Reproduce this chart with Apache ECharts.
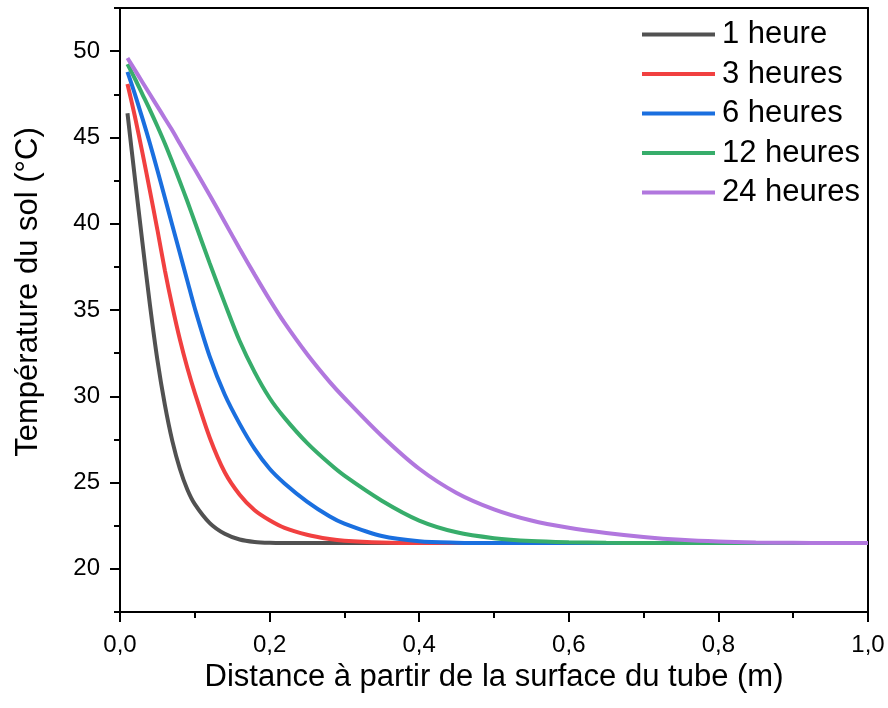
<!DOCTYPE html>
<html>
<head>
<meta charset="utf-8">
<script src="https://cdn.jsdelivr.net/npm/echarts@6/dist/echarts.min.js"></script>
<style>
  html, body { margin: 0; padding: 0; background: #fff; }
  #main { width: 888px; height: 708px; }
</style>
</head>
<body>
<div id="main"></div>
<script>
// distance from the tube surface (m)
var distance = [0.01, 0.02, 0.03, 0.04, 0.05, 0.06, 0.07, 0.08, 0.09, 0.10, 0.12, 0.14, 0.16, 0.18, 0.20, 0.22,
  0.25, 0.28, 0.30, 0.35, 0.40, 0.45, 0.50, 0.55, 0.60, 0.65, 0.70, 0.75, 0.80, 0.85, 0.90, 0.95, 1.00];

// soil temperature (°C) for each duration
var temp1h = [46.4, 42.6, 38.9, 35.3, 32.1, 29.5, 27.4, 25.8, 24.6, 23.75, 22.65, 22.03, 21.7, 21.56, 21.51, 21.5,
  21.5, 21.5, 21.5, 21.5, 21.5, 21.5, 21.5, 21.5, 21.5, 21.5, 21.5, 21.5, 21.5, 21.5, 21.5, 21.5, 21.5];
var temp3h = [48.1, 46.2, 44.1, 41.9, 39.65, 37.3, 35.2, 33.3, 31.65, 30.2, 27.6, 25.6, 24.3, 23.4, 22.82, 22.38,
  21.98, 21.73, 21.63, 21.53, 21.5, 21.5, 21.5, 21.5, 21.5, 21.5, 21.5, 21.5, 21.5, 21.5, 21.5, 21.5, 21.5];
var temp6h = [48.8, 47.5, 46.1, 44.65, 43.1, 41.5, 39.9, 38.3, 36.7, 35.1, 32.3, 30.1, 28.4, 26.95, 25.8, 24.95,
  23.9, 23.05, 22.62, 21.9, 21.6, 21.52, 21.5, 21.5, 21.5, 21.5, 21.5, 21.5, 21.5, 21.5, 21.5, 21.5, 21.5];
var temp12h = [49.25, 48.4, 47.5, 46.6, 45.65, 44.65, 43.57, 42.45, 41.3, 40.1, 37.7, 35.4, 33.2, 31.4, 29.9, 28.75,
  27.3, 26.1, 25.4, 23.95, 22.8, 22.12, 21.78, 21.61, 21.54, 21.51, 21.5, 21.5, 21.5, 21.5, 21.5, 21.5, 21.5];
var temp24h = [49.6, 48.9, 48.2, 47.5, 46.8, 46.1, 45.4, 44.65, 43.9, 43.15, 41.65, 40.1, 38.55, 37.05, 35.6, 34.25,
  32.45, 30.85, 29.9, 27.7, 25.8, 24.4, 23.45, 22.8, 22.38, 22.08, 21.85, 21.68, 21.58, 21.53, 21.51, 21.5, 21.5];

var seriesNames = ['1 heure', '3 heures', '6 heures', '12 heures', '24 heures'];
var seriesColors = ['#515151', '#F14040', '#1A6FDF', '#37AD6B', '#B177DE'];
var seriesValues = [temp1h, temp3h, temp6h, temp12h, temp24h];

var yMajor = [20, 25, 30, 35, 40, 45, 50];
var yMinor = [17.5, 22.5, 27.5, 32.5, 37.5, 42.5, 47.5, 52.5];

var font = 'Liberation Sans, Arial, sans-serif';

var series = seriesNames.map(function (name, k) {
  return {
    name: name,
    type: 'line',
    symbol: 'none',
    smooth: 0.3,
    color: seriesColors[k],
    lineStyle: { width: 4, color: seriesColors[k] },
    data: distance.map(function (d, i) { return [d, seriesValues[k][i]]; })
  };
});

var option = {
  backgroundColor: '#fff',
  animation: false,
  grid: { left: 120, right: 20, top: 8, bottom: 96 },
  legend: {
    orient: 'vertical',
    left: 642,
    top: 19,
    padding: 0,
    icon: 'rect',
    itemWidth: 73,
    itemHeight: 4,
    itemGap: 8.5,
    textStyle: { fontFamily: font, fontSize: 31, color: '#000', lineHeight: 30, padding: [0, 0, 0, 2] },
    data: seriesNames
  },
  xAxis: [
    {
      type: 'value',
      min: 0, max: 1, interval: 0.2,
      name: 'Distance à partir de la surface du tube (m)',
      nameLocation: 'middle',
      nameGap: 50,
      nameTextStyle: { fontFamily: font, fontSize: 31, color: '#000' },
      axisLine: { show: true, onZero: false, lineStyle: { color: '#000', width: 2 } },
      axisTick: { show: true, inside: false, length: 10, lineStyle: { color: '#000', width: 2 } },
      minorTick: { show: true, splitNumber: 2, length: 6, lineStyle: { color: '#000', width: 2 } },
      splitLine: { show: false },
      axisLabel: {
        fontFamily: font, fontSize: 24, color: '#000', margin: 21,
        formatter: function (v) { return v.toFixed(1).replace('.', ','); }
      }
    },
    {
      type: 'value', position: 'top', min: 0, max: 1,
      axisLine: { show: true, onZero: false, lineStyle: { color: '#000', width: 2 } },
      axisTick: { show: false }, axisLabel: { show: false }, splitLine: { show: false }
    }
  ],
  yAxis: [
    {
      type: 'value',
      min: 17.5, max: 52.5, interval: 2.5,
      name: 'Température du sol (°C)',
      nameLocation: 'middle',
      nameGap: 76,
      nameTextStyle: { fontFamily: font, fontSize: 31, color: '#000', padding: [0, 0, 0, 36] },
      axisLine: { show: true, onZero: false, lineStyle: { color: '#000', width: 2 } },
      axisTick: { show: true, length: 10, customValues: yMajor, lineStyle: { color: '#000', width: 2 } },
      splitLine: { show: false },
      axisLabel: { fontFamily: font, fontSize: 24, color: '#000', margin: 20, customValues: yMajor }
    },
    {
      type: 'value', position: 'left',
      min: 17.5, max: 52.5, interval: 2.5,
      axisLine: { show: false },
      axisTick: { show: true, length: 6, customValues: yMinor, lineStyle: { color: '#000', width: 2 } },
      axisLabel: { show: false }, splitLine: { show: false }
    },
    {
      type: 'value', position: 'right',
      min: 17.5, max: 52.5, interval: 2.5,
      axisLine: { show: true, onZero: false, lineStyle: { color: '#000', width: 2 } },
      axisTick: { show: false }, axisLabel: { show: false }, splitLine: { show: false }
    }
  ],
  series: series
};

var myChart = echarts.init(document.getElementById('main'));
myChart.setOption(option);
</script>
</body>
</html>
